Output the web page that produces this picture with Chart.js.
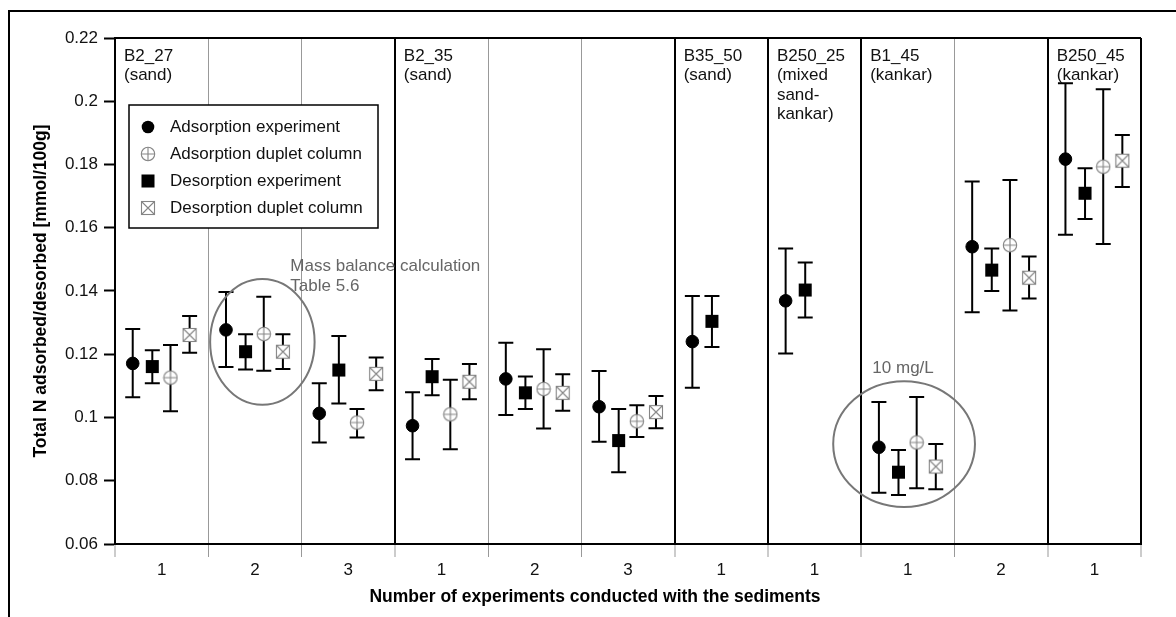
<!DOCTYPE html>
<html>
<head>
<meta charset="utf-8">
<title>Total N adsorbed/desorbed</title>
<script src="https://cdn.jsdelivr.net/npm/chart.js@4.4.1/dist/chart.umd.min.js"></script>
<style>
  html, body { margin: 0; padding: 0; background: #fff; }
  #wrap { width: 1176px; height: 617px; }
</style>
</head>
<body>
<div id="wrap"><canvas id="nChart" width="1176" height="617"></canvas></div>
<script>
// run number of each experiment (one per column)
const runLabels = ['1', '2', '3', '1', '2', '3', '1', '1', '1', '2', '1'];

// sediments: name, type and first column index
const sedimentNames = ['B2_27', 'B2_35', 'B35_50', 'B250_25', 'B1_45', 'B250_45'];
const sedimentTypes = [['(sand)'], ['(sand)'], ['(sand)'], ['(mixed', 'sand-', 'kankar)'], ['(kankar)'], ['(kankar)']];
const sedimentStart = [0, 3, 6, 7, 8, 10];

const yTicks = [0.06, 0.08, 0.1, 0.12, 0.14, 0.16, 0.18, 0.2, 0.22];

// Adsorption experiment
const adsExp   = [0.1171, 0.1277, 0.1013, 0.0974, 0.1122, 0.1034, 0.1240, 0.1369, 0.0906, 0.1540, 0.1817];
const adsExpLo = [0.1064, 0.1160, 0.0921, 0.0868, 0.1008, 0.0923, 0.1094, 0.1202, 0.0762, 0.1333, 0.1578];
const adsExpHi = [0.1280, 0.1397, 0.1108, 0.1080, 0.1236, 0.1147, 0.1384, 0.1534, 0.1049, 0.1746, 0.2057];

// Adsorption duplet column
const adsDup   = [0.1126, 0.1264, 0.0984, 0.1010, 0.1090, 0.0988, null, null, 0.0921, 0.1545, 0.1793];
const adsDupLo = [0.1020, 0.1148, 0.0937, 0.0900, 0.0965, 0.0938, null, null, 0.0776, 0.1338, 0.1549];
const adsDupHi = [0.1229, 0.1382, 0.1027, 0.1119, 0.1216, 0.1039, null, null, 0.1065, 0.1751, 0.2038];

// Desorption experiment
const desExp   = [0.1161, 0.1208, 0.1150, 0.1129, 0.1078, 0.0927, 0.1304, 0.1403, 0.0827, 0.1466, 0.1709];
const desExpLo = [0.1108, 0.1152, 0.1044, 0.1070, 0.1027, 0.0827, 0.1223, 0.1316, 0.0755, 0.1400, 0.1628];
const desExpHi = [0.1213, 0.1263, 0.1258, 0.1185, 0.1130, 0.1027, 0.1384, 0.1490, 0.0897, 0.1534, 0.1788];

// Desorption duplet column
const desDup   = [0.1261, 0.1208, 0.1138, 0.1113, 0.1078, 0.1017, null, null, 0.0845, 0.1442, 0.1812];
const desDupLo = [0.1205, 0.1153, 0.1086, 0.1058, 0.1021, 0.0966, null, null, 0.0773, 0.1376, 0.1729];
const desDupHi = [0.1321, 0.1263, 0.1190, 0.1169, 0.1137, 0.1068, null, null, 0.0916, 0.1509, 0.1893];

// notes drawn on the plot (in axis units)
const notes = [
  { text: ['Mass balance calculation', 'Table 5.6'], x: 1.38, y: 0.1477 },
  { text: ['10 mg/L'], x: 7.62, y: 0.1156 }
];
const rings = [
  { x: 1.08, y: 0.1239, rx: 0.56, ry: 0.0199 },
  { x: 7.96, y: 0.0916, rx: 0.76, ry: 0.0199 }
];

const FONT = '"Liberation Sans", Arial, sans-serif';
const GREY = '#858585';

function makeMarker(kind) {
  const c = document.createElement('canvas');
  c.width = 16; c.height = 16;
  const g = c.getContext('2d');
  g.fillStyle = '#fff';
  g.strokeStyle = GREY;
  g.lineWidth = 1.1;
  if (kind === 'circlePlus') {
    g.beginPath(); g.arc(8, 8, 6.7, 0, Math.PI * 2); g.fill(); g.stroke();
    g.beginPath();
    g.moveTo(1.3, 8); g.lineTo(14.7, 8);
    g.moveTo(8, 1.3); g.lineTo(8, 14.7);
    g.stroke();
  } else {
    g.fillRect(1.5, 1.5, 13, 13);
    g.strokeRect(1.5, 1.5, 13, 13);
    g.beginPath();
    g.moveTo(1.5, 1.5); g.lineTo(14.5, 14.5);
    g.moveTo(14.5, 1.5); g.lineTo(1.5, 14.5);
    g.stroke();
  }
  return c;
}

function points(vals, lo, hi, offset) {
  const out = [];
  vals.forEach((v, i) => {
    if (v === null) return;
    out.push({ x: i + offset, y: v, lo: lo[i], hi: hi[i] });
  });
  return out;
}

const datasets = [
  {
    label: 'Adsorption experiment',
    data: points(adsExp, adsExpLo, adsExpHi, -0.31),
    pointStyle: 'circle', pointRadius: 6.3,
    backgroundColor: '#000', borderColor: '#000', pointBorderWidth: 1
  },
  {
    label: 'Adsorption duplet column',
    data: points(adsDup, adsDupLo, adsDupHi, 0.095),
    pointStyle: makeMarker('circlePlus'), pointRadius: 8,
    backgroundColor: '#fff', borderColor: GREY
  },
  {
    label: 'Desorption experiment',
    data: points(desExp, desExpLo, desExpHi, -0.1),
    pointStyle: 'rect', pointRadius: 9.2,
    backgroundColor: '#000', borderColor: '#000', pointBorderWidth: 0
  },
  {
    label: 'Desorption duplet column',
    data: points(desDup, desDupLo, desDupHi, 0.3),
    pointStyle: makeMarker('boxX'), pointRadius: 8,
    backgroundColor: '#fff', borderColor: GREY
  }
];

// column boundaries that separate sediments get a heavy line
const heavyBounds = sedimentStart.map(s => s - 0.5).concat([runLabels.length - 0.5]);
const xTickValues = [];
for (let i = 0; i <= runLabels.length * 2; i++) xTickValues.push(-0.5 + i * 0.5);

function isBound(v) { return !Number.isInteger(v); }
function isHeavy(v) { return heavyBounds.includes(v); }

function drawMarker(ctx, ds, x, y) {
  const st = ds.pointStyle;
  if (typeof st !== 'string') {
    ctx.drawImage(st, x - st.width / 2, y - st.height / 2);
    return;
  }
  ctx.fillStyle = ds.backgroundColor;
  if (st === 'circle') {
    ctx.beginPath(); ctx.arc(x, y, ds.pointRadius, 0, Math.PI * 2); ctx.fill();
  } else {
    const h = ds.pointRadius * Math.SQRT1_2;
    ctx.fillRect(x - h, y - h, 2 * h, 2 * h);
  }
}

const decor = {
  id: 'decor',
  beforeDraw(chart) {
    const ctx = chart.ctx;
    ctx.save();
    ctx.fillStyle = '#fff';
    ctx.fillRect(0, 0, chart.width, chart.height);
    // outer frame
    ctx.strokeStyle = '#000';
    ctx.lineWidth = 2;
    ctx.beginPath();
    ctx.moveTo(9, chart.height);
    ctx.lineTo(9, 11);
    ctx.lineTo(chart.width, 11);
    ctx.stroke();
    ctx.restore();
  },
  beforeDatasetsDraw(chart) {
    const ctx = chart.ctx;
    const ys = chart.scales.y;
    ctx.save();
    ctx.strokeStyle = '#000';
    ctx.lineWidth = 2;
    chart.data.datasets.forEach((ds, di) => {
      const meta = chart.getDatasetMeta(di);
      meta.data.forEach((pt, k) => {
        const raw = ds.data[k];
        const top = ys.getPixelForValue(raw.hi);
        const bot = ys.getPixelForValue(raw.lo);
        ctx.beginPath();
        ctx.moveTo(pt.x, top); ctx.lineTo(pt.x, bot);
        ctx.moveTo(pt.x - 7.5, top); ctx.lineTo(pt.x + 7.5, top);
        ctx.moveTo(pt.x - 7.5, bot); ctx.lineTo(pt.x + 7.5, bot);
        ctx.stroke();
      });
    });
    ctx.restore();
  },
  afterDraw(chart) {
    const ctx = chart.ctx;
    const a = chart.chartArea;
    const xs = chart.scales.x, ys = chart.scales.y;
    ctx.save();

    // top edge of the plot box
    ctx.strokeStyle = '#000';
    ctx.lineWidth = 2;
    ctx.beginPath();
    ctx.moveTo(a.left, a.top); ctx.lineTo(a.right, a.top);
    ctx.stroke();

    // sediment names
    ctx.fillStyle = '#111';
    ctx.font = '17px ' + FONT;
    ctx.textBaseline = 'middle';
    ctx.textAlign = 'left';
    sedimentNames.forEach((name, i) => {
      const x = xs.getPixelForValue(sedimentStart[i] - 0.5) + 9;
      [name].concat(sedimentTypes[i]).forEach((line, j) => {
        ctx.fillText(line, x, a.top + 18 + j * 19.5);
      });
    });

    // rings and notes
    ctx.strokeStyle = '#777';
    ctx.lineWidth = 2;
    rings.forEach(r => {
      const cx = xs.getPixelForValue(r.x), cy = ys.getPixelForValue(r.y);
      const rx = xs.getPixelForValue(r.x + r.rx) - cx;
      const ry = cy - ys.getPixelForValue(r.y + r.ry);
      ctx.beginPath();
      ctx.ellipse(cx, cy, rx, ry, 0, 0, Math.PI * 2);
      ctx.stroke();
    });
    ctx.fillStyle = '#666';
    notes.forEach(n => {
      const x = xs.getPixelForValue(n.x), y = ys.getPixelForValue(n.y);
      n.text.forEach((line, j) => ctx.fillText(line, x, y + j * 19.5));
    });

    // legend
    const lx = 129, ly = 105, lw = 249, lh = 123;
    ctx.fillStyle = '#fff';
    ctx.fillRect(lx, ly, lw, lh);
    ctx.strokeStyle = '#000';
    ctx.lineWidth = 1.5;
    ctx.strokeRect(lx, ly, lw, lh);
    chart.data.datasets.forEach((ds, i) => {
      const y = ly + 22 + i * 27;
      drawMarker(ctx, ds, lx + 19, y);
      ctx.fillStyle = '#111';
      ctx.font = '17px ' + FONT;
      ctx.fillText(ds.label, lx + 41, y);
    });

    // x axis title
    ctx.fillStyle = '#000';
    ctx.font = 'bold 17.5px ' + FONT;
    ctx.textAlign = 'center';
    ctx.fillText('Number of experiments conducted with the sediments', 595, 597);
    ctx.restore();
  }
};

new Chart(document.getElementById('nChart'), {
  type: 'scatter',
  data: { datasets: datasets },
  options: {
    responsive: false,
    animation: false,
    layout: { padding: { top: 38, right: 35, left: 0, bottom: 0 } },
    plugins: { legend: { display: false }, tooltip: { enabled: false } },
    scales: {
      x: {
        type: 'linear',
        min: -0.5,
        max: runLabels.length - 0.5,
        afterBuildTicks: (scale) => { scale.ticks = xTickValues.map(v => ({ value: v })); },
        afterFit: (scale) => { scale.height = 73; },
        ticks: {
          autoSkip: false,
          maxRotation: 0,
          padding: 3,
          color: '#111',
          font: { family: FONT, size: 17 },
          callback: (v) => Number.isInteger(v) ? runLabels[v] : ''
        },
        grid: {
          drawOnChartArea: true,
          drawTicks: true,
          tickLength: 13,
          color: (c) => !isBound(c.tick.value) ? 'rgba(0,0,0,0)' : (isHeavy(c.tick.value) ? '#000' : '#999'),
          lineWidth: (c) => !isBound(c.tick.value) ? 0 : (isHeavy(c.tick.value) ? 2 : 1),
          tickColor: (c) => isBound(c.tick.value) ? '#999' : 'rgba(0,0,0,0)',
          tickWidth: 1
        },
        border: { display: true, color: '#000', width: 2 }
      },
      y: {
        min: 0.06,
        max: 0.22,
        afterBuildTicks: (scale) => { scale.ticks = yTicks.map(v => ({ value: v })); },
        afterFit: (scale) => { scale.width = 115; },
        ticks: {
          padding: 6,
          color: '#111',
          font: { family: FONT, size: 17 },
          callback: (v) => String(parseFloat(v.toFixed(2)))
        },
        grid: {
          drawOnChartArea: false,
          drawTicks: true,
          tickLength: 11,
          tickColor: '#000',
          tickWidth: 2
        },
        border: { display: true, color: '#000', width: 2 },
        title: {
          display: true,
          text: 'Total N adsorbed/desorbed [mmol/100g]',
          color: '#000',
          font: { family: FONT, size: 17.5, weight: 'bold' },
          padding: { top: 31, bottom: 0 }
        }
      }
    }
  },
  plugins: [decor]
});
</script>
</body>
</html>
